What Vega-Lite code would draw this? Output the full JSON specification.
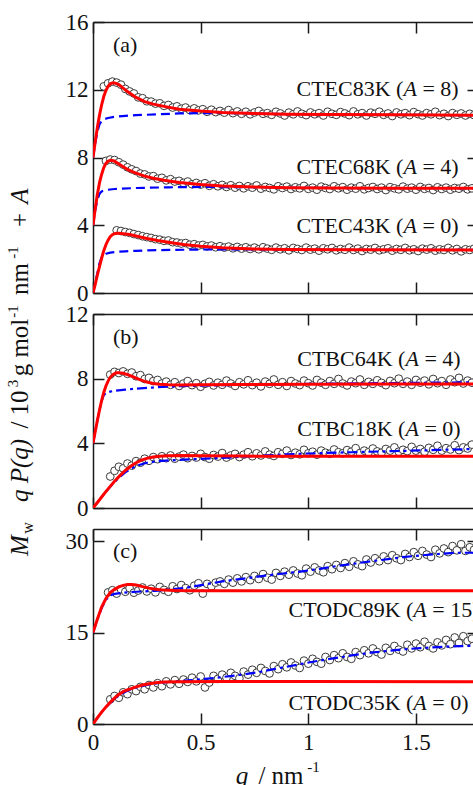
{
"$schema":"https://vega.github.io/schema/vega-lite/v6.json",
"background":"white",
"padding":{"left":5,"top":11,"right":0,"bottom":0},
"bounds":"flush",
"spacing":21,
"config":{
 "view":{"stroke":null},
 "font":"Liberation Serif, Times New Roman, DejaVu Serif, serif",
 "axis":{"domainColor":"#1a1a1a","domainWidth":1.5,"tickColor":"#1a1a1a","tickWidth":1.5,"tickSize":-11,"labelFont":"Liberation Serif, Times New Roman, DejaVu Serif, serif","labelFontSize":23,"labelColor":"#111","labelFlush":false,"labelOverlap":false,"labelBound":false,"grid":false,"titleFont":"Liberation Serif, Times New Roman, DejaVu Serif, serif","titleFontSize":25,"titleColor":"#111","titleFontWeight":"normal","titleAlign":"center","titleBaseline":"alphabetic"},
 "text":{"font":"Liberation Serif, Times New Roman, DejaVu Serif, serif","fontSize":22,"color":"#111"}
},
"datasets":{
"ptsA":[
{"q":0.05,"v":12.2},{"q":0.07,"v":12.38},{"q":0.09,"v":12.48},{"q":0.11,"v":12.42},{"q":0.13,"v":12.3},{"q":0.15,"v":12.05},{"q":0.17,"v":11.9},{"q":0.19,"v":11.78},{"q":0.21,"v":11.55},{"q":0.23,"v":11.5},{"q":0.25,"v":11.32},{"q":0.27,"v":11.3},{"q":0.29,"v":11.18},{"q":0.31,"v":11.2},{"q":0.33,"v":11.05},{"q":0.35,"v":11.1},{"q":0.37,"v":10.95},{"q":0.39,"v":11.02},{"q":0.41,"v":10.88},{"q":0.43,"v":10.95},{"q":0.45,"v":10.8},{"q":0.47,"v":10.9},{"q":0.49,"v":10.78},{"q":0.51,"v":10.85},{"q":0.53,"v":10.7},{"q":0.55,"v":10.82},{"q":0.57,"v":10.68},{"q":0.59,"v":10.75},{"q":0.61,"v":10.65},{"q":0.63,"v":10.8},{"q":0.65,"v":10.62},{"q":0.67,"v":10.72},{"q":0.69,"v":10.58},{"q":0.71,"v":10.7},{"q":0.73,"v":10.55},{"q":0.75,"v":10.66},{"q":0.77,"v":10.75},{"q":0.79,"v":10.58},{"q":0.81,"v":10.62},{"q":0.83,"v":10.52},{"q":0.85,"v":10.7},{"q":0.87,"v":10.6},{"q":0.89,"v":10.48},{"q":0.91,"v":10.65},{"q":0.93,"v":10.55},{"q":0.95,"v":10.72},{"q":0.97,"v":10.58},{"q":0.99,"v":10.5},{"q":1.01,"v":10.66},{"q":1.03,"v":10.55},{"q":1.05,"v":10.62},{"q":1.07,"v":10.48},{"q":1.09,"v":10.7},{"q":1.11,"v":10.58},{"q":1.13,"v":10.52},{"q":1.15,"v":10.68},{"q":1.17,"v":10.6},{"q":1.19,"v":10.5},{"q":1.21,"v":10.72},{"q":1.23,"v":10.55},{"q":1.25,"v":10.62},{"q":1.27,"v":10.48},{"q":1.29,"v":10.65},{"q":1.31,"v":10.58},{"q":1.33,"v":10.7},{"q":1.35,"v":10.52},{"q":1.37,"v":10.6},{"q":1.39,"v":10.45},{"q":1.41,"v":10.66},{"q":1.43,"v":10.55},{"q":1.45,"v":10.62},{"q":1.47,"v":10.5},{"q":1.49,"v":10.68},{"q":1.51,"v":10.56},{"q":1.53,"v":10.48},{"q":1.55,"v":10.62},{"q":1.57,"v":10.55},{"q":1.59,"v":10.7},{"q":1.61,"v":10.5},{"q":1.63,"v":10.58},{"q":1.65,"v":10.45},{"q":1.67,"v":10.62},{"q":1.69,"v":10.52},{"q":1.71,"v":10.6},{"q":1.73,"v":10.48},{"q":1.75,"v":10.58},{"q":1.77,"v":10.5},
{"q":0.06,"v":7.8},{"q":0.08,"v":7.88},{"q":0.1,"v":7.85},{"q":0.12,"v":7.72},{"q":0.14,"v":7.58},{"q":0.16,"v":7.42},{"q":0.18,"v":7.3},{"q":0.2,"v":7.2},{"q":0.22,"v":7.05},{"q":0.24,"v":7.0},{"q":0.26,"v":6.88},{"q":0.28,"v":6.9},{"q":0.3,"v":6.75},{"q":0.32,"v":6.8},{"q":0.34,"v":6.65},{"q":0.36,"v":6.72},{"q":0.38,"v":6.58},{"q":0.4,"v":6.62},{"q":0.42,"v":6.5},{"q":0.44,"v":6.58},{"q":0.46,"v":6.42},{"q":0.48,"v":6.5},{"q":0.5,"v":6.4},{"q":0.52,"v":6.48},{"q":0.54,"v":6.33},{"q":0.56,"v":6.42},{"q":0.58,"v":6.3},{"q":0.6,"v":6.38},{"q":0.62,"v":6.26},{"q":0.64,"v":6.36},{"q":0.66,"v":6.22},{"q":0.68,"v":6.32},{"q":0.7,"v":6.18},{"q":0.72,"v":6.3},{"q":0.74,"v":6.22},{"q":0.76,"v":6.35},{"q":0.78,"v":6.16},{"q":0.8,"v":6.26},{"q":0.82,"v":6.2},{"q":0.84,"v":6.12},{"q":0.86,"v":6.3},{"q":0.88,"v":6.2},{"q":0.9,"v":6.28},{"q":0.92,"v":6.14},{"q":0.94,"v":6.24},{"q":0.96,"v":6.18},{"q":0.98,"v":6.32},{"q":1.0,"v":6.15},{"q":1.02,"v":6.22},{"q":1.04,"v":6.1},{"q":1.06,"v":6.28},{"q":1.08,"v":6.2},{"q":1.1,"v":6.14},{"q":1.12,"v":6.3},{"q":1.14,"v":6.18},{"q":1.16,"v":6.25},{"q":1.18,"v":6.1},{"q":1.2,"v":6.22},{"q":1.22,"v":6.16},{"q":1.24,"v":6.3},{"q":1.26,"v":6.12},{"q":1.28,"v":6.2},{"q":1.3,"v":6.26},{"q":1.32,"v":6.14},{"q":1.34,"v":6.22},{"q":1.36,"v":6.08},{"q":1.38,"v":6.25},{"q":1.4,"v":6.18},{"q":1.42,"v":6.12},{"q":1.44,"v":6.28},{"q":1.46,"v":6.16},{"q":1.48,"v":6.22},{"q":1.5,"v":6.1},{"q":1.52,"v":6.26},{"q":1.54,"v":6.15},{"q":1.56,"v":6.2},{"q":1.58,"v":6.08},{"q":1.6,"v":6.24},{"q":1.62,"v":6.14},{"q":1.64,"v":6.22},{"q":1.66,"v":6.1},{"q":1.68,"v":6.2},{"q":1.7,"v":6.16},{"q":1.72,"v":6.26},{"q":1.74,"v":6.12},{"q":1.76,"v":6.18},
{"q":0.11,"v":3.7},{"q":0.13,"v":3.66},{"q":0.15,"v":3.6},{"q":0.17,"v":3.55},{"q":0.19,"v":3.48},{"q":0.21,"v":3.42},{"q":0.23,"v":3.35},{"q":0.25,"v":3.3},{"q":0.27,"v":3.25},{"q":0.29,"v":3.18},{"q":0.31,"v":3.15},{"q":0.33,"v":3.08},{"q":0.35,"v":3.1},{"q":0.37,"v":3.0},{"q":0.39,"v":2.98},{"q":0.41,"v":2.92},{"q":0.43,"v":2.95},{"q":0.45,"v":2.85},{"q":0.47,"v":2.88},{"q":0.49,"v":2.8},{"q":0.51,"v":2.84},{"q":0.53,"v":2.75},{"q":0.55,"v":2.8},{"q":0.57,"v":2.7},{"q":0.59,"v":2.76},{"q":0.61,"v":2.68},{"q":0.63,"v":2.74},{"q":0.65,"v":2.64},{"q":0.67,"v":2.72},{"q":0.69,"v":2.62},{"q":0.71,"v":2.7},{"q":0.73,"v":2.6},{"q":0.75,"v":2.68},{"q":0.77,"v":2.58},{"q":0.79,"v":2.7},{"q":0.81,"v":2.62},{"q":0.83,"v":2.55},{"q":0.85,"v":2.68},{"q":0.87,"v":2.58},{"q":0.89,"v":2.64},{"q":0.91,"v":2.52},{"q":0.93,"v":2.66},{"q":0.95,"v":2.6},{"q":0.97,"v":2.54},{"q":0.99,"v":2.68},{"q":1.01,"v":2.56},{"q":1.03,"v":2.62},{"q":1.05,"v":2.5},{"q":1.07,"v":2.64},{"q":1.09,"v":2.58},{"q":1.11,"v":2.66},{"q":1.13,"v":2.52},{"q":1.15,"v":2.6},{"q":1.17,"v":2.55},{"q":1.19,"v":2.68},{"q":1.21,"v":2.54},{"q":1.23,"v":2.62},{"q":1.25,"v":2.48},{"q":1.27,"v":2.6},{"q":1.29,"v":2.56},{"q":1.31,"v":2.66},{"q":1.33,"v":2.52},{"q":1.35,"v":2.58},{"q":1.37,"v":2.64},{"q":1.39,"v":2.5},{"q":1.41,"v":2.6},{"q":1.43,"v":2.55},{"q":1.45,"v":2.66},{"q":1.47,"v":2.52},{"q":1.49,"v":2.58},{"q":1.51,"v":2.48},{"q":1.53,"v":2.62},{"q":1.55,"v":2.56},{"q":1.57,"v":2.64},{"q":1.59,"v":2.5},{"q":1.61,"v":2.58},{"q":1.63,"v":2.54},{"q":1.65,"v":2.66},{"q":1.67,"v":2.52},{"q":1.69,"v":2.6},{"q":1.71,"v":2.46},{"q":1.73,"v":2.58},{"q":1.75,"v":2.54},{"q":1.77,"v":2.62}
],
"redA":[
{"s":"83","q":0,"v":8},{"s":"83","q":0.01,"v":8.9},{"s":"83","q":0.02,"v":9.75},{"s":"83","q":0.03,"v":10.5},{"s":"83","q":0.04,"v":11.1},{"s":"83","q":0.05,"v":11.6},{"s":"83","q":0.06,"v":11.95},{"s":"83","q":0.07,"v":12.2},{"s":"83","q":0.08,"v":12.35},{"s":"83","q":0.09,"v":12.4},{"s":"83","q":0.1,"v":12.4},{"s":"83","q":0.12,"v":12.3},{"s":"83","q":0.14,"v":12.1},{"s":"83","q":0.16,"v":11.9},{"s":"83","q":0.18,"v":11.72},{"s":"83","q":0.2,"v":11.55},{"s":"83","q":0.24,"v":11.3},{"s":"83","q":0.28,"v":11.15},{"s":"83","q":0.33,"v":11.02},{"s":"83","q":0.4,"v":10.85},{"s":"83","q":0.5,"v":10.74},{"s":"83","q":0.6,"v":10.66},{"s":"83","q":0.75,"v":10.6},{"s":"83","q":0.9,"v":10.56},{"s":"83","q":1.1,"v":10.54},{"s":"83","q":1.4,"v":10.52},{"s":"83","q":1.8,"v":10.5},
{"s":"68","q":0,"v":4},{"s":"68","q":0.01,"v":4.95},{"s":"68","q":0.02,"v":5.8},{"s":"68","q":0.03,"v":6.5},{"s":"68","q":0.04,"v":7.0},{"s":"68","q":0.05,"v":7.4},{"s":"68","q":0.06,"v":7.65},{"s":"68","q":0.07,"v":7.78},{"s":"68","q":0.08,"v":7.83},{"s":"68","q":0.09,"v":7.82},{"s":"68","q":0.1,"v":7.78},{"s":"68","q":0.12,"v":7.62},{"s":"68","q":0.14,"v":7.45},{"s":"68","q":0.16,"v":7.3},{"s":"68","q":0.18,"v":7.18},{"s":"68","q":0.2,"v":7.08},{"s":"68","q":0.24,"v":6.9},{"s":"68","q":0.28,"v":6.78},{"s":"68","q":0.33,"v":6.66},{"s":"68","q":0.4,"v":6.52},{"s":"68","q":0.5,"v":6.4},{"s":"68","q":0.6,"v":6.32},{"s":"68","q":0.75,"v":6.26},{"s":"68","q":0.9,"v":6.22},{"s":"68","q":1.1,"v":6.2},{"s":"68","q":1.4,"v":6.19},{"s":"68","q":1.8,"v":6.18},
{"s":"43","q":0,"v":0},{"s":"43","q":0.01,"v":0.5},{"s":"43","q":0.02,"v":1.05},{"s":"43","q":0.03,"v":1.55},{"s":"43","q":0.04,"v":2.05},{"s":"43","q":0.05,"v":2.5},{"s":"43","q":0.06,"v":2.85},{"s":"43","q":0.07,"v":3.12},{"s":"43","q":0.08,"v":3.32},{"s":"43","q":0.09,"v":3.44},{"s":"43","q":0.1,"v":3.5},{"s":"43","q":0.11,"v":3.53},{"s":"43","q":0.12,"v":3.53},{"s":"43","q":0.14,"v":3.5},{"s":"43","q":0.17,"v":3.45},{"s":"43","q":0.2,"v":3.37},{"s":"43","q":0.25,"v":3.22},{"s":"43","q":0.3,"v":3.1},{"s":"43","q":0.35,"v":3.0},{"s":"43","q":0.42,"v":2.87},{"s":"43","q":0.5,"v":2.76},{"s":"43","q":0.6,"v":2.67},{"s":"43","q":0.75,"v":2.6},{"s":"43","q":0.9,"v":2.57},{"s":"43","q":1.2,"v":2.55},{"s":"43","q":1.8,"v":2.54}
],
"bluA":[
{"s":"83","q":0,"v":8},{"s":"83","q":0.01,"v":8.8},{"s":"83","q":0.02,"v":9.5},{"s":"83","q":0.03,"v":9.95},{"s":"83","q":0.04,"v":10.15},{"s":"83","q":0.05,"v":10.25},{"s":"83","q":0.07,"v":10.33},{"s":"83","q":0.1,"v":10.4},{"s":"83","q":0.15,"v":10.46},{"s":"83","q":0.2,"v":10.5},{"s":"83","q":0.3,"v":10.55},{"s":"83","q":0.4,"v":10.6},{"s":"83","q":0.5,"v":10.62},{"s":"83","q":0.6,"v":10.63},{"s":"83","q":0.75,"v":10.6},{"s":"83","q":0.9,"v":10.56},{"s":"83","q":1.1,"v":10.54},{"s":"83","q":1.4,"v":10.52},{"s":"83","q":1.8,"v":10.5},
{"s":"68","q":0,"v":4},{"s":"68","q":0.01,"v":4.85},{"s":"68","q":0.02,"v":5.5},{"s":"68","q":0.03,"v":5.85},{"s":"68","q":0.04,"v":6.0},{"s":"68","q":0.06,"v":6.08},{"s":"68","q":0.1,"v":6.14},{"s":"68","q":0.2,"v":6.2},{"s":"68","q":0.35,"v":6.24},{"s":"68","q":0.5,"v":6.26},{"s":"68","q":0.75,"v":6.25},{"s":"68","q":0.9,"v":6.22},{"s":"68","q":1.1,"v":6.2},{"s":"68","q":1.4,"v":6.19},{"s":"68","q":1.8,"v":6.18},
{"s":"43","q":0,"v":0},{"s":"43","q":0.01,"v":0.55},{"s":"43","q":0.02,"v":1.15},{"s":"43","q":0.03,"v":1.75},{"s":"43","q":0.04,"v":2.1},{"s":"43","q":0.05,"v":2.25},{"s":"43","q":0.06,"v":2.32},{"s":"43","q":0.08,"v":2.38},{"s":"43","q":0.1,"v":2.42},{"s":"43","q":0.15,"v":2.46},{"s":"43","q":0.2,"v":2.49},{"s":"43","q":0.3,"v":2.53},{"s":"43","q":0.45,"v":2.56},{"s":"43","q":0.6,"v":2.58},{"s":"43","q":0.75,"v":2.58},{"s":"43","q":0.9,"v":2.57},{"s":"43","q":1.2,"v":2.55},{"s":"43","q":1.8,"v":2.54}
],
"ptsB":[
{"q":0.08,"v":8.25},{"q":0.1,"v":8.42},{"q":0.12,"v":8.35},{"q":0.14,"v":8.45},{"q":0.16,"v":8.3},{"q":0.18,"v":8.38},{"q":0.2,"v":8.15},{"q":0.22,"v":8.22},{"q":0.24,"v":7.98},{"q":0.26,"v":8.05},{"q":0.28,"v":7.85},{"q":0.3,"v":7.92},{"q":0.32,"v":7.7},{"q":0.34,"v":7.82},{"q":0.36,"v":7.62},{"q":0.38,"v":7.78},{"q":0.4,"v":7.55},{"q":0.42,"v":7.7},{"q":0.44,"v":7.85},{"q":0.46,"v":7.6},{"q":0.48,"v":7.72},{"q":0.5,"v":7.5},{"q":0.52,"v":7.68},{"q":0.54,"v":7.8},{"q":0.56,"v":7.58},{"q":0.58,"v":7.75},{"q":0.6,"v":7.62},{"q":0.62,"v":7.88},{"q":0.64,"v":7.7},{"q":0.66,"v":7.55},{"q":0.68,"v":7.78},{"q":0.7,"v":7.65},{"q":0.72,"v":7.9},{"q":0.74,"v":7.6},{"q":0.76,"v":7.75},{"q":0.78,"v":7.52},{"q":0.8,"v":7.82},{"q":0.82,"v":7.68},{"q":0.84,"v":7.95},{"q":0.86,"v":7.62},{"q":0.88,"v":7.78},{"q":0.9,"v":7.55},{"q":0.92,"v":7.85},{"q":0.94,"v":7.7},{"q":0.96,"v":7.6},{"q":0.98,"v":7.88},{"q":1.0,"v":7.72},{"q":1.02,"v":7.58},{"q":1.04,"v":7.92},{"q":1.06,"v":7.75},{"q":1.08,"v":7.62},{"q":1.1,"v":7.85},{"q":1.12,"v":7.68},{"q":1.14,"v":7.98},{"q":1.16,"v":7.7},{"q":1.18,"v":7.58},{"q":1.2,"v":7.82},{"q":1.22,"v":7.72},{"q":1.24,"v":7.95},{"q":1.26,"v":7.62},{"q":1.28,"v":7.8},{"q":1.3,"v":7.68},{"q":1.32,"v":7.9},{"q":1.34,"v":7.74},{"q":1.36,"v":7.6},{"q":1.38,"v":7.86},{"q":1.4,"v":7.72},{"q":1.42,"v":8.0},{"q":1.44,"v":7.68},{"q":1.46,"v":7.82},{"q":1.48,"v":7.62},{"q":1.5,"v":7.92},{"q":1.52,"v":7.75},{"q":1.54,"v":7.88},{"q":1.56,"v":7.65},{"q":1.58,"v":7.98},{"q":1.6,"v":7.72},{"q":1.62,"v":7.85},{"q":1.64,"v":7.62},{"q":1.66,"v":7.95},{"q":1.68,"v":7.78},{"q":1.7,"v":8.05},{"q":1.72,"v":7.7},{"q":1.74,"v":7.88},{"q":1.76,"v":7.75},
{"q":0.08,"v":1.95},{"q":0.1,"v":2.3},{"q":0.12,"v":2.55},{"q":0.14,"v":2.45},{"q":0.16,"v":2.75},{"q":0.18,"v":2.62},{"q":0.2,"v":2.9},{"q":0.22,"v":2.8},{"q":0.24,"v":3.05},{"q":0.26,"v":2.92},{"q":0.28,"v":3.15},{"q":0.3,"v":3.02},{"q":0.32,"v":3.2},{"q":0.34,"v":3.08},{"q":0.36,"v":3.25},{"q":0.38,"v":3.05},{"q":0.4,"v":3.18},{"q":0.42,"v":3.3},{"q":0.44,"v":3.08},{"q":0.46,"v":3.22},{"q":0.48,"v":3.12},{"q":0.5,"v":3.35},{"q":0.52,"v":3.15},{"q":0.54,"v":3.05},{"q":0.56,"v":3.28},{"q":0.58,"v":3.18},{"q":0.6,"v":3.4},{"q":0.62,"v":3.12},{"q":0.64,"v":3.25},{"q":0.66,"v":3.35},{"q":0.68,"v":3.15},{"q":0.7,"v":3.3},{"q":0.72,"v":3.45},{"q":0.74,"v":3.2},{"q":0.76,"v":3.38},{"q":0.78,"v":3.25},{"q":0.8,"v":3.5},{"q":0.82,"v":3.3},{"q":0.84,"v":3.22},{"q":0.86,"v":3.45},{"q":0.88,"v":3.35},{"q":0.9,"v":3.55},{"q":0.92,"v":3.28},{"q":0.94,"v":3.42},{"q":0.96,"v":3.32},{"q":0.98,"v":3.6},{"q":1.0,"v":3.38},{"q":1.02,"v":3.48},{"q":1.04,"v":3.3},{"q":1.06,"v":3.55},{"q":1.08,"v":3.42},{"q":1.1,"v":3.35},{"q":1.12,"v":3.62},{"q":1.14,"v":3.45},{"q":1.16,"v":3.38},{"q":1.18,"v":3.58},{"q":1.2,"v":3.48},{"q":1.22,"v":3.7},{"q":1.24,"v":3.4},{"q":1.26,"v":3.55},{"q":1.28,"v":3.45},{"q":1.3,"v":3.68},{"q":1.32,"v":3.5},{"q":1.34,"v":3.42},{"q":1.36,"v":3.65},{"q":1.38,"v":3.55},{"q":1.4,"v":3.75},{"q":1.42,"v":3.48},{"q":1.44,"v":3.6},{"q":1.46,"v":3.52},{"q":1.48,"v":3.78},{"q":1.5,"v":3.55},{"q":1.52,"v":3.65},{"q":1.54,"v":3.48},{"q":1.56,"v":3.72},{"q":1.58,"v":3.6},{"q":1.6,"v":3.85},{"q":1.62,"v":3.55},{"q":1.64,"v":3.7},{"q":1.66,"v":3.62},{"q":1.68,"v":3.88},{"q":1.7,"v":3.58},{"q":1.72,"v":3.75},{"q":1.74,"v":3.68},{"q":1.76,"v":3.92}
],
"redB":[
{"s":"64","q":0,"v":4},{"s":"64","q":0.01,"v":4.7},{"s":"64","q":0.02,"v":5.4},{"s":"64","q":0.03,"v":6.05},{"s":"64","q":0.04,"v":6.65},{"s":"64","q":0.05,"v":7.15},{"s":"64","q":0.06,"v":7.55},{"s":"64","q":0.07,"v":7.85},{"s":"64","q":0.08,"v":8.08},{"s":"64","q":0.09,"v":8.22},{"s":"64","q":0.1,"v":8.31},{"s":"64","q":0.11,"v":8.36},{"s":"64","q":0.12,"v":8.37},{"s":"64","q":0.14,"v":8.33},{"s":"64","q":0.16,"v":8.25},{"s":"64","q":0.18,"v":8.15},{"s":"64","q":0.2,"v":8.03},{"s":"64","q":0.22,"v":7.92},{"s":"64","q":0.25,"v":7.79},{"s":"64","q":0.28,"v":7.7},{"s":"64","q":0.31,"v":7.65},{"s":"64","q":0.35,"v":7.62},{"s":"64","q":0.4,"v":7.61},{"s":"64","q":0.5,"v":7.62},{"s":"64","q":0.7,"v":7.64},{"s":"64","q":1.0,"v":7.66},{"s":"64","q":1.4,"v":7.67},{"s":"64","q":1.8,"v":7.67},
{"s":"18","q":0,"v":0},{"s":"18","q":0.025,"v":0.42},{"s":"18","q":0.05,"v":0.85},{"s":"18","q":0.075,"v":1.26},{"s":"18","q":0.1,"v":1.65},{"s":"18","q":0.125,"v":2.0},{"s":"18","q":0.15,"v":2.32},{"s":"18","q":0.175,"v":2.58},{"s":"18","q":0.2,"v":2.8},{"s":"18","q":0.225,"v":2.96},{"s":"18","q":0.25,"v":3.07},{"s":"18","q":0.28,"v":3.15},{"s":"18","q":0.31,"v":3.2},{"s":"18","q":0.35,"v":3.23},{"s":"18","q":0.4,"v":3.24},{"s":"18","q":0.5,"v":3.23},{"s":"18","q":0.7,"v":3.21},{"s":"18","q":1.0,"v":3.2},{"s":"18","q":1.8,"v":3.2}
],
"bluB":[
{"s":"64","q":0,"v":4},{"s":"64","q":0.01,"v":4.7},{"s":"64","q":0.02,"v":5.4},{"s":"64","q":0.03,"v":6.05},{"s":"64","q":0.04,"v":6.6},{"s":"64","q":0.05,"v":6.98},{"s":"64","q":0.06,"v":7.12},{"s":"64","q":0.08,"v":7.2},{"s":"64","q":0.1,"v":7.25},{"s":"64","q":0.15,"v":7.32},{"s":"64","q":0.2,"v":7.38},{"s":"64","q":0.3,"v":7.47},{"s":"64","q":0.4,"v":7.53},{"s":"64","q":0.5,"v":7.57},{"s":"64","q":0.7,"v":7.62},{"s":"64","q":1.0,"v":7.68},{"s":"64","q":1.4,"v":7.73},{"s":"64","q":1.8,"v":7.78},
{"s":"18","q":0,"v":0},{"s":"18","q":0.025,"v":0.42},{"s":"18","q":0.05,"v":0.84},{"s":"18","q":0.075,"v":1.24},{"s":"18","q":0.1,"v":1.6},{"s":"18","q":0.125,"v":1.93},{"s":"18","q":0.15,"v":2.2},{"s":"18","q":0.175,"v":2.42},{"s":"18","q":0.2,"v":2.6},{"s":"18","q":0.25,"v":2.8},{"s":"18","q":0.3,"v":2.9},{"s":"18","q":0.4,"v":2.98},{"s":"18","q":0.5,"v":3.04},{"s":"18","q":0.6,"v":3.1},{"s":"18","q":0.7,"v":3.17},{"s":"18","q":0.8,"v":3.25},{"s":"18","q":0.9,"v":3.32},{"s":"18","q":1.0,"v":3.37},{"s":"18","q":1.2,"v":3.45},{"s":"18","q":1.4,"v":3.52},{"s":"18","q":1.6,"v":3.59},{"s":"18","q":1.8,"v":3.66}
],
"ptsC":[
{"q":0.07,"v":21.6},{"q":0.09,"v":21.95},{"q":0.11,"v":21.4},{"q":0.13,"v":22.1},{"q":0.15,"v":21.7},{"q":0.17,"v":22.3},{"q":0.19,"v":21.55},{"q":0.21,"v":21.9},{"q":0.23,"v":22.4},{"q":0.25,"v":21.75},{"q":0.27,"v":22.2},{"q":0.29,"v":21.6},{"q":0.31,"v":22.5},{"q":0.33,"v":22.0},{"q":0.35,"v":21.7},{"q":0.37,"v":22.6},{"q":0.39,"v":22.15},{"q":0.41,"v":22.8},{"q":0.43,"v":22.3},{"q":0.45,"v":21.95},{"q":0.47,"v":22.7},{"q":0.49,"v":23.1},{"q":0.51,"v":21.4},{"q":0.53,"v":23.0},{"q":0.55,"v":22.6},{"q":0.57,"v":23.2},{"q":0.59,"v":23.4},{"q":0.61,"v":23.0},{"q":0.63,"v":23.7},{"q":0.65,"v":23.2},{"q":0.67,"v":23.9},{"q":0.69,"v":23.4},{"q":0.71,"v":24.1},{"q":0.73,"v":23.6},{"q":0.75,"v":24.3},{"q":0.77,"v":23.8},{"q":0.79,"v":24.6},{"q":0.81,"v":24.0},{"q":0.83,"v":23.7},{"q":0.85,"v":24.8},{"q":0.87,"v":24.3},{"q":0.89,"v":25.0},{"q":0.91,"v":24.5},{"q":0.93,"v":25.2},{"q":0.95,"v":24.7},{"q":0.97,"v":24.4},{"q":0.99,"v":25.5},{"q":1.01,"v":25.0},{"q":1.03,"v":25.7},{"q":1.05,"v":25.2},{"q":1.07,"v":24.9},{"q":1.09,"v":25.9},{"q":1.11,"v":25.4},{"q":1.13,"v":26.1},{"q":1.15,"v":25.6},{"q":1.17,"v":26.4},{"q":1.19,"v":25.8},{"q":1.21,"v":26.7},{"q":1.23,"v":26.2},{"q":1.25,"v":25.9},{"q":1.27,"v":27.0},{"q":1.29,"v":26.5},{"q":1.31,"v":27.2},{"q":1.33,"v":26.7},{"q":1.35,"v":27.5},{"q":1.37,"v":26.9},{"q":1.39,"v":27.7},{"q":1.41,"v":27.2},{"q":1.43,"v":26.9},{"q":1.45,"v":27.9},{"q":1.47,"v":27.4},{"q":1.49,"v":28.2},{"q":1.51,"v":27.6},{"q":1.53,"v":28.4},{"q":1.55,"v":27.8},{"q":1.57,"v":27.4},{"q":1.59,"v":28.6},{"q":1.61,"v":28.0},{"q":1.63,"v":28.8},{"q":1.65,"v":28.2},{"q":1.67,"v":29.2},{"q":1.69,"v":28.5},{"q":1.71,"v":29.5},{"q":1.73,"v":28.4},{"q":1.75,"v":29.0},{"q":1.77,"v":28.6},
{"q":0.08,"v":4.05},{"q":0.1,"v":4.6},{"q":0.12,"v":4.3},{"q":0.14,"v":5.2},{"q":0.16,"v":4.9},{"q":0.18,"v":5.7},{"q":0.2,"v":5.4},{"q":0.22,"v":6.1},{"q":0.24,"v":5.7},{"q":0.26,"v":6.4},{"q":0.28,"v":6.0},{"q":0.3,"v":6.7},{"q":0.32,"v":6.2},{"q":0.34,"v":7.0},{"q":0.36,"v":6.5},{"q":0.38,"v":7.2},{"q":0.4,"v":6.6},{"q":0.42,"v":7.3},{"q":0.44,"v":6.9},{"q":0.46,"v":7.6},{"q":0.48,"v":7.0},{"q":0.5,"v":7.8},{"q":0.52,"v":6.0},{"q":0.54,"v":6.8},{"q":0.56,"v":7.9},{"q":0.58,"v":7.4},{"q":0.6,"v":8.1},{"q":0.62,"v":7.6},{"q":0.64,"v":8.4},{"q":0.66,"v":7.9},{"q":0.68,"v":7.5},{"q":0.7,"v":8.6},{"q":0.72,"v":8.1},{"q":0.74,"v":8.9},{"q":0.76,"v":8.4},{"q":0.78,"v":9.2},{"q":0.8,"v":8.7},{"q":0.82,"v":8.3},{"q":0.84,"v":9.5},{"q":0.86,"v":9.0},{"q":0.88,"v":9.8},{"q":0.9,"v":9.3},{"q":0.92,"v":10.1},{"q":0.94,"v":9.6},{"q":0.96,"v":9.2},{"q":0.98,"v":10.4},{"q":1.0,"v":9.9},{"q":1.02,"v":10.7},{"q":1.04,"v":10.2},{"q":1.06,"v":9.9},{"q":1.08,"v":11.0},{"q":1.1,"v":10.5},{"q":1.12,"v":11.3},{"q":1.14,"v":10.8},{"q":1.16,"v":11.6},{"q":1.18,"v":11.0},{"q":1.2,"v":10.7},{"q":1.22,"v":11.8},{"q":1.24,"v":11.3},{"q":1.26,"v":12.1},{"q":1.28,"v":11.6},{"q":1.3,"v":12.4},{"q":1.32,"v":11.8},{"q":1.34,"v":11.4},{"q":1.36,"v":12.5},{"q":1.38,"v":12.0},{"q":1.4,"v":12.8},{"q":1.42,"v":12.2},{"q":1.44,"v":11.9},{"q":1.46,"v":13.0},{"q":1.48,"v":12.4},{"q":1.5,"v":13.2},{"q":1.52,"v":12.6},{"q":1.54,"v":13.5},{"q":1.56,"v":12.8},{"q":1.58,"v":12.4},{"q":1.6,"v":13.4},{"q":1.62,"v":12.9},{"q":1.64,"v":13.8},{"q":1.66,"v":13.1},{"q":1.68,"v":14.2},{"q":1.7,"v":13.3},{"q":1.72,"v":14.4},{"q":1.74,"v":13.6},{"q":1.76,"v":14.0}
],
"redC":[
{"s":"89","q":0,"v":15},{"s":"89","q":0.02,"v":17.2},{"s":"89","q":0.04,"v":19.2},{"s":"89","q":0.06,"v":20.6},{"s":"89","q":0.08,"v":21.55},{"s":"89","q":0.1,"v":22.1},{"s":"89","q":0.12,"v":22.5},{"s":"89","q":0.14,"v":22.75},{"s":"89","q":0.16,"v":22.88},{"s":"89","q":0.18,"v":22.9},{"s":"89","q":0.2,"v":22.8},{"s":"89","q":0.23,"v":22.55},{"s":"89","q":0.26,"v":22.3},{"s":"89","q":0.29,"v":22.1},{"s":"89","q":0.33,"v":21.97},{"s":"89","q":0.38,"v":21.9},{"s":"89","q":0.45,"v":21.86},{"s":"89","q":0.6,"v":21.85},{"s":"89","q":1.0,"v":21.85},{"s":"89","q":1.8,"v":21.85},
{"s":"35","q":0,"v":0},{"s":"35","q":0.02,"v":1.0},{"s":"35","q":0.04,"v":1.95},{"s":"35","q":0.06,"v":2.8},{"s":"35","q":0.08,"v":3.55},{"s":"35","q":0.1,"v":4.25},{"s":"35","q":0.12,"v":4.85},{"s":"35","q":0.14,"v":5.3},{"s":"35","q":0.16,"v":5.6},{"s":"35","q":0.18,"v":5.85},{"s":"35","q":0.2,"v":6.1},{"s":"35","q":0.23,"v":6.4},{"s":"35","q":0.26,"v":6.62},{"s":"35","q":0.29,"v":6.78},{"s":"35","q":0.33,"v":6.88},{"s":"35","q":0.4,"v":6.95},{"s":"35","q":0.6,"v":6.97},{"s":"35","q":1.0,"v":6.96},{"s":"35","q":1.8,"v":6.95}
],
"bluC":[
{"s":"89","q":0,"v":15},{"s":"89","q":0.02,"v":17.1},{"s":"89","q":0.04,"v":19.0},{"s":"89","q":0.06,"v":20.4},{"s":"89","q":0.08,"v":21.1},{"s":"89","q":0.1,"v":21.35},{"s":"89","q":0.13,"v":21.5},{"s":"89","q":0.2,"v":21.7},{"s":"89","q":0.29,"v":21.85},{"s":"89","q":0.35,"v":22.05},{"s":"89","q":0.44,"v":22.4},{"s":"89","q":0.52,"v":22.9},{"s":"89","q":0.6,"v":23.4},{"s":"89","q":0.7,"v":23.85},{"s":"89","q":0.8,"v":24.35},{"s":"89","q":0.9,"v":24.75},{"s":"89","q":0.98,"v":25.1},{"s":"89","q":1.06,"v":25.5},{"s":"89","q":1.13,"v":25.9},{"s":"89","q":1.21,"v":26.3},{"s":"89","q":1.29,"v":26.7},{"s":"89","q":1.37,"v":27.05},{"s":"89","q":1.44,"v":27.4},{"s":"89","q":1.52,"v":27.65},{"s":"89","q":1.6,"v":27.9},{"s":"89","q":1.69,"v":28.1},{"s":"89","q":1.8,"v":28.1},
{"s":"35","q":0,"v":0},{"s":"35","q":0.02,"v":0.98},{"s":"35","q":0.04,"v":1.92},{"s":"35","q":0.06,"v":2.75},{"s":"35","q":0.08,"v":3.45},{"s":"35","q":0.1,"v":4.1},{"s":"35","q":0.12,"v":4.65},{"s":"35","q":0.14,"v":5.1},{"s":"35","q":0.16,"v":5.45},{"s":"35","q":0.18,"v":5.75},{"s":"35","q":0.2,"v":5.98},{"s":"35","q":0.25,"v":6.4},{"s":"35","q":0.3,"v":6.7},{"s":"35","q":0.37,"v":6.95},{"s":"35","q":0.44,"v":7.15},{"s":"35","q":0.52,"v":7.4},{"s":"35","q":0.6,"v":7.7},{"s":"35","q":0.68,"v":8.05},{"s":"35","q":0.76,"v":8.45},{"s":"35","q":0.84,"v":9.0},{"s":"35","q":0.9,"v":9.4},{"s":"35","q":0.98,"v":9.95},{"s":"35","q":1.06,"v":10.45},{"s":"35","q":1.13,"v":10.85},{"s":"35","q":1.21,"v":11.3},{"s":"35","q":1.29,"v":11.7},{"s":"35","q":1.37,"v":12.0},{"s":"35","q":1.44,"v":12.25},{"s":"35","q":1.52,"v":12.45},{"s":"35","q":1.6,"v":12.62},{"s":"35","q":1.7,"v":12.78},{"s":"35","q":1.8,"v":12.85}
],
"labA":[{"q":1.442,"v":11.63,"pre":"CTEC83K (","suf":"= 8)"},{"q":1.442,"v":7.0,"pre":"CTEC68K (","suf":"= 4)"},{"q":1.442,"v":3.56,"pre":"CTEC43K (","suf":"= 0)"}],
"labB":[{"q":1.451,"v":8.78,"pre":"CTBC64K (","suf":"= 4)"},{"q":1.451,"v":4.45,"pre":"CTBC18K (","suf":"= 0)"}],
"labC":[{"q":1.488,"v":17.56,"pre":"CTODC89K (","suf":"= 15)"},{"q":1.488,"v":2.25,"pre":"CTODC35K (","suf":"= 0)"}],
"anchor":[{"q":0,"v":0}]
},
"vconcat":[
{
 "width":380,"height":271,
 "resolve":{"axis":{"x":"independent","y":"independent"}},
 "layer":[
  {"data":{"name":"ptsA"},"mark":{"type":"point","shape":"circle","filled":true,"fill":"white","stroke":"#3a3a3a","strokeWidth":1,"size":60,"opacity":1,"clip":true},
   "encoding":{"x":{"field":"q","type":"quantitative","scale":{"domain":[0,1.765],"nice":false,"zero":false},"axis":{"orient":"bottom","values":[0,0.5,1,1.5],"labels":false,"title":null}},
   "y":{"field":"v","type":"quantitative","scale":{"domain":[0,16],"nice":false,"zero":false},"axis":{"orient":"left","values":[0,4,8,12,16],"labelPadding":16,"title":null}}}},
  {"data":{"name":"bluA"},"mark":{"type":"line","color":"#0000ff","strokeWidth":2.2,"strokeDash":[9,5],"clip":true},
   "encoding":{"x":{"field":"q","type":"quantitative","scale":{"domain":[0,1.765],"nice":false,"zero":false},"axis":null},"y":{"field":"v","type":"quantitative","scale":{"domain":[0,16],"nice":false,"zero":false},"axis":null},"detail":{"field":"s"}}},
  {"data":{"name":"redA"},"mark":{"type":"line","color":"#ff0000","strokeWidth":3,"clip":true},
   "encoding":{"x":{"field":"q","type":"quantitative","scale":{"domain":[0,1.765],"nice":false,"zero":false},"axis":{"orient":"top","values":[0,0.5,1,1.5],"labels":false,"title":null}},
   "y":{"field":"v","type":"quantitative","scale":{"domain":[0,16],"nice":false,"zero":false},"axis":{"orient":"right","values":[4,8,12],"labels":false,"domain":false,"tickSize":-6,"title":null}},"detail":{"field":"s"}}},
  {"data":{"name":"labA"},"mark":{"type":"text","align":"right","baseline":"alphabetic"},
   "encoding":{"x":{"field":"q","type":"quantitative","axis":null},"y":{"field":"v","type":"quantitative","axis":null},"text":{"field":"pre"}}},
  {"data":{"name":"labA"},"mark":{"type":"text","align":"left","baseline":"alphabetic","fontStyle":"italic"},
   "encoding":{"x":{"field":"q","type":"quantitative","axis":null},"y":{"field":"v","type":"quantitative","axis":null},"text":{"value":"A"}}},
  {"data":{"name":"labA"},"mark":{"type":"text","align":"left","baseline":"alphabetic","dx":19},
   "encoding":{"x":{"field":"q","type":"quantitative","axis":null},"y":{"field":"v","type":"quantitative","axis":null},"text":{"field":"suf"}}},
  {"data":{"values":[{"q":0.093,"v":14.24,"t":"(a)"}]},"mark":{"type":"text","align":"left","baseline":"alphabetic"},
   "encoding":{"x":{"field":"q","type":"quantitative","axis":null},"y":{"field":"v","type":"quantitative","axis":null},"text":{"field":"t"}}}
 ]
},
{
 "width":380,"height":194,
 "resolve":{"axis":{"x":"independent","y":"independent"}},
 "layer":[
  {"data":{"name":"ptsB"},"mark":{"type":"point","shape":"circle","filled":true,"fill":"white","stroke":"#3a3a3a","strokeWidth":1,"size":60,"opacity":1,"clip":true},
   "encoding":{"x":{"field":"q","type":"quantitative","scale":{"domain":[0,1.765],"nice":false,"zero":false},"axis":{"orient":"bottom","values":[0,0.5,1,1.5],"labels":false,"title":null}},
   "y":{"field":"v","type":"quantitative","scale":{"domain":[0,12],"nice":false,"zero":false},"axis":{"orient":"left","values":[0,4,8,12],"labelPadding":16,"title":null}}}},
  {"data":{"name":"bluB"},"mark":{"type":"line","color":"#0000ff","strokeWidth":2.2,"strokeDash":[10,4,3,4],"clip":true},
   "encoding":{"x":{"field":"q","type":"quantitative","scale":{"domain":[0,1.765],"nice":false,"zero":false},"axis":null},"y":{"field":"v","type":"quantitative","scale":{"domain":[0,12],"nice":false,"zero":false},"axis":null},"detail":{"field":"s"}}},
  {"data":{"name":"redB"},"mark":{"type":"line","color":"#ff0000","strokeWidth":3,"clip":true},
   "encoding":{"x":{"field":"q","type":"quantitative","scale":{"domain":[0,1.765],"nice":false,"zero":false},"axis":{"orient":"top","values":[0,0.5,1,1.5],"labels":false,"title":null}},
   "y":{"field":"v","type":"quantitative","scale":{"domain":[0,12],"nice":false,"zero":false},"axis":{"orient":"right","values":[4,8],"labels":false,"domain":false,"tickSize":-6,"title":null}},"detail":{"field":"s"}}},
  {"data":{"name":"labB"},"mark":{"type":"text","align":"right","baseline":"alphabetic"},
   "encoding":{"x":{"field":"q","type":"quantitative","axis":null},"y":{"field":"v","type":"quantitative","axis":null},"text":{"field":"pre"}}},
  {"data":{"name":"labB"},"mark":{"type":"text","align":"left","baseline":"alphabetic","fontStyle":"italic"},
   "encoding":{"x":{"field":"q","type":"quantitative","axis":null},"y":{"field":"v","type":"quantitative","axis":null},"text":{"value":"A"}}},
  {"data":{"name":"labB"},"mark":{"type":"text","align":"left","baseline":"alphabetic","dx":19},
   "encoding":{"x":{"field":"q","type":"quantitative","axis":null},"y":{"field":"v","type":"quantitative","axis":null},"text":{"field":"suf"}}},
  {"data":{"values":[{"q":0.093,"v":10.14,"t":"(b)"}]},"mark":{"type":"text","align":"left","baseline":"alphabetic"},
   "encoding":{"x":{"field":"q","type":"quantitative","axis":null},"y":{"field":"v","type":"quantitative","axis":null},"text":{"field":"t"}}},
  {"data":{"name":"anchor"},"mark":{"type":"text","text":""},"encoding":{"x":{"field":"q","type":"quantitative","axis":null},"y":{"field":"v","type":"quantitative","axis":{"orient":"left","ticks":false,"labels":false,"domain":false,"title":"M","titleFontStyle":"italic","titleAngle":270,"titleX":-66,"titleY":231}}}},
  {"data":{"name":"anchor"},"mark":{"type":"text","text":""},"encoding":{"x":{"field":"q","type":"quantitative","axis":null},"y":{"field":"v","type":"quantitative","axis":{"orient":"left","ticks":false,"labels":false,"domain":false,"title":"w","titleFontSize":16,"titleAngle":270,"titleX":-61,"titleY":213.5}}}},
  {"data":{"name":"anchor"},"mark":{"type":"text","text":""},"encoding":{"x":{"field":"q","type":"quantitative","axis":null},"y":{"field":"v","type":"quantitative","axis":{"orient":"left","ticks":false,"labels":false,"domain":false,"title":"q P(q)","titleFontStyle":"italic","titleAngle":270,"titleX":-66,"titleY":156}}}},
  {"data":{"name":"anchor"},"mark":{"type":"text","text":""},"encoding":{"x":{"field":"q","type":"quantitative","axis":null},"y":{"field":"v","type":"quantitative","axis":{"orient":"left","ticks":false,"labels":false,"domain":false,"title":"/ 10","titleAngle":270,"titleX":-66,"titleY":95}}}},
  {"data":{"name":"anchor"},"mark":{"type":"text","text":""},"encoding":{"x":{"field":"q","type":"quantitative","axis":null},"y":{"field":"v","type":"quantitative","axis":{"orient":"left","ticks":false,"labels":false,"domain":false,"title":"3","titleFontSize":15,"titleAngle":270,"titleX":-76,"titleY":69}}}},
  {"data":{"name":"anchor"},"mark":{"type":"text","text":""},"encoding":{"x":{"field":"q","type":"quantitative","axis":null},"y":{"field":"v","type":"quantitative","axis":{"orient":"left","ticks":false,"labels":false,"domain":false,"title":"g mol","titleAngle":270,"titleX":-66,"titleY":33}}}},
  {"data":{"name":"anchor"},"mark":{"type":"text","text":""},"encoding":{"x":{"field":"q","type":"quantitative","axis":null},"y":{"field":"v","type":"quantitative","axis":{"orient":"left","ticks":false,"labels":false,"domain":false,"title":"-1","titleFontSize":15,"titleAngle":270,"titleX":-76,"titleY":-3}}}},
  {"data":{"name":"anchor"},"mark":{"type":"text","text":""},"encoding":{"x":{"field":"q","type":"quantitative","axis":null},"y":{"field":"v","type":"quantitative","axis":{"orient":"left","ticks":false,"labels":false,"domain":false,"title":"nm","titleAngle":270,"titleX":-66,"titleY":-35.5}}}},
  {"data":{"name":"anchor"},"mark":{"type":"text","text":""},"encoding":{"x":{"field":"q","type":"quantitative","axis":null},"y":{"field":"v","type":"quantitative","axis":{"orient":"left","ticks":false,"labels":false,"domain":false,"title":"-1","titleFontSize":15,"titleAngle":270,"titleX":-76,"titleY":-62}}}},
  {"data":{"name":"anchor"},"mark":{"type":"text","text":""},"encoding":{"x":{"field":"q","type":"quantitative","axis":null},"y":{"field":"v","type":"quantitative","axis":{"orient":"left","ticks":false,"labels":false,"domain":false,"title":"+","titleAngle":270,"titleX":-66,"titleY":-94.5}}}},
  {"data":{"name":"anchor"},"mark":{"type":"text","text":""},"encoding":{"x":{"field":"q","type":"quantitative","axis":null},"y":{"field":"v","type":"quantitative","axis":{"orient":"left","ticks":false,"labels":false,"domain":false,"title":"A","titleFontStyle":"italic","titleAngle":270,"titleX":-66,"titleY":-118.5}}}}
 ]
},
{
 "width":380,"height":195,
 "resolve":{"axis":{"x":"independent","y":"independent"}},
 "layer":[
  {"data":{"name":"ptsC"},"mark":{"type":"point","shape":"circle","filled":true,"fill":"white","stroke":"#3a3a3a","strokeWidth":1,"size":60,"opacity":1,"clip":true},
   "encoding":{"x":{"field":"q","type":"quantitative","scale":{"domain":[0,1.765],"nice":false,"zero":false},"axis":{"orient":"bottom","values":[0,0.5,1,1.5],"format":"~g","labelPadding":18.6,"labelBaseline":"top","title":"q","titleFontStyle":"italic","titleX":148.5,"titleY":59,"titleAngle":0}},
   "y":{"field":"v","type":"quantitative","scale":{"domain":[0,32],"nice":false,"zero":false},"axis":{"orient":"left","values":[0,15,30],"labelPadding":16,"title":null}}}},
  {"data":{"name":"bluC"},"mark":{"type":"line","color":"#0000ff","strokeWidth":2.2,"strokeDash":[10,4,3,4],"clip":true},
   "encoding":{"x":{"field":"q","type":"quantitative","scale":{"domain":[0,1.765],"nice":false,"zero":false},"axis":null},"y":{"field":"v","type":"quantitative","scale":{"domain":[0,32],"nice":false,"zero":false},"axis":null},"detail":{"field":"s"}}},
  {"data":{"name":"redC"},"mark":{"type":"line","color":"#ff0000","strokeWidth":3,"clip":true},
   "encoding":{"x":{"field":"q","type":"quantitative","scale":{"domain":[0,1.765],"nice":false,"zero":false},"axis":{"orient":"top","values":[0,0.5,1,1.5],"labels":false,"title":null}},
   "y":{"field":"v","type":"quantitative","scale":{"domain":[0,32],"nice":false,"zero":false},"axis":{"orient":"right","values":[15,30],"labels":false,"domain":false,"tickSize":-6,"title":null}},"detail":{"field":"s"}}},
  {"data":{"name":"labC"},"mark":{"type":"text","align":"right","baseline":"alphabetic"},
   "encoding":{"x":{"field":"q","type":"quantitative","axis":null},"y":{"field":"v","type":"quantitative","axis":null},"text":{"field":"pre"}}},
  {"data":{"name":"labC"},"mark":{"type":"text","align":"left","baseline":"alphabetic","fontStyle":"italic"},
   "encoding":{"x":{"field":"q","type":"quantitative","axis":null},"y":{"field":"v","type":"quantitative","axis":null},"text":{"value":"A"}}},
  {"data":{"name":"labC"},"mark":{"type":"text","align":"left","baseline":"alphabetic","dx":19},
   "encoding":{"x":{"field":"q","type":"quantitative","axis":null},"y":{"field":"v","type":"quantitative","axis":null},"text":{"field":"suf"}}},
  {"data":{"values":[{"q":0.093,"v":27.2,"t":"(c)"}]},"mark":{"type":"text","align":"left","baseline":"alphabetic"},
   "encoding":{"x":{"field":"q","type":"quantitative","axis":null},"y":{"field":"v","type":"quantitative","axis":null},"text":{"field":"t"}}},
  {"data":{"name":"anchor"},"mark":{"type":"text","text":""},"encoding":{"y":{"field":"v","type":"quantitative","axis":null},"x":{"field":"q","type":"quantitative","axis":{"orient":"bottom","ticks":false,"labels":false,"domain":false,"title":"/ nm","titleAngle":0,"titleX":187.5,"titleY":59}}}},
  {"data":{"name":"anchor"},"mark":{"type":"text","text":""},"encoding":{"y":{"field":"v","type":"quantitative","axis":null},"x":{"field":"q","type":"quantitative","axis":{"orient":"bottom","ticks":false,"labels":false,"domain":false,"title":"-1","titleFontSize":15,"titleAngle":0,"titleX":220,"titleY":47}}}}
 ]
}
]
}
